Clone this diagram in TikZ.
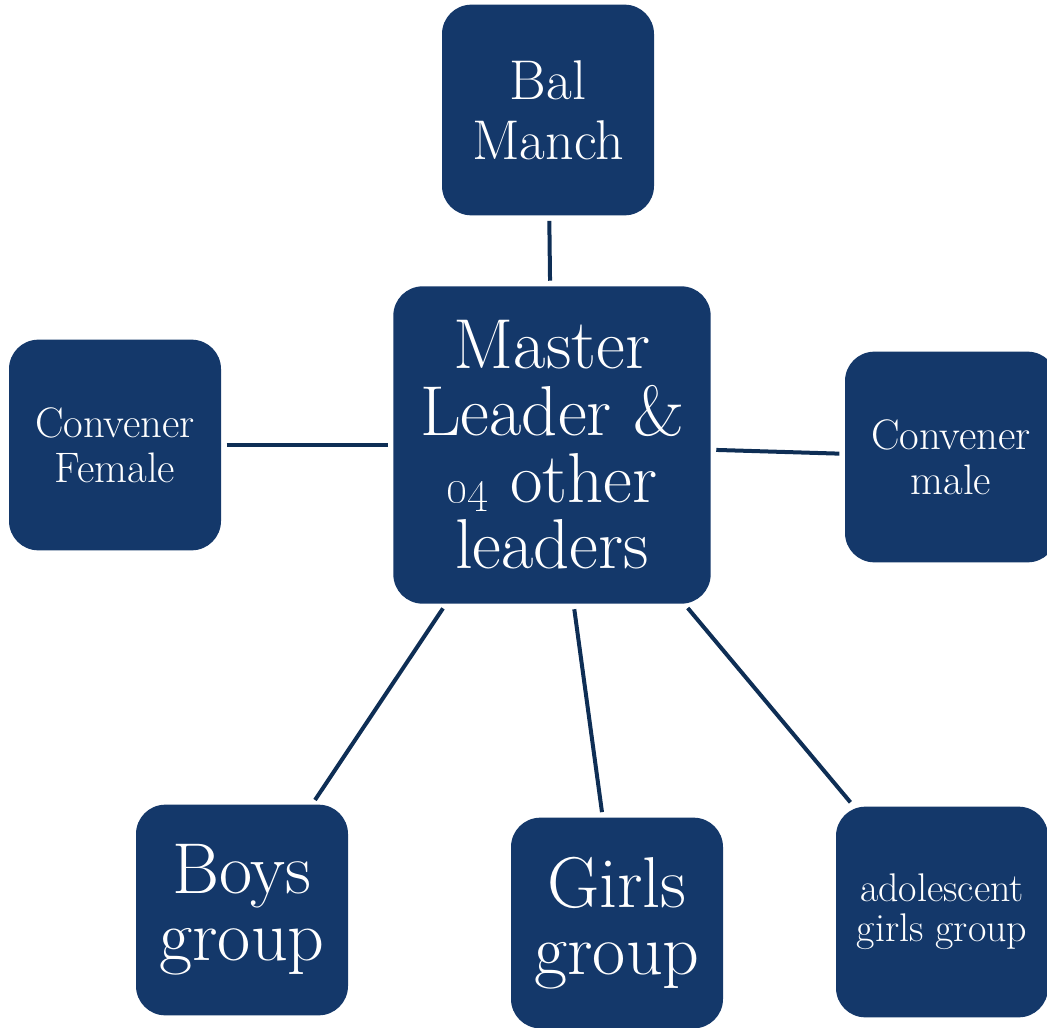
\documentclass[tikz,border=0pt]{standalone}
\definecolor{boxfill}{HTML}{14386A}
\definecolor{linecol}{HTML}{0E2E55}
\tikzset{
  box/.style={fill=boxfill, draw=none, rounded corners=22pt, minimum width=159pt, minimum height=158pt, text=white, align=center, inner sep=0pt},
  bigbox/.style={box, minimum width=238pt, minimum height=238pt},
  conn/.style={draw=linecol, line width=3pt, shorten >=4pt, shorten <=4pt}
}
\begin{document}
\begin{tikzpicture}[x=0.75pt,y=-0.75pt]
\useasboundingbox (0,0) rectangle (1047,1028);
\clip (0,0) rectangle (1047,1028);
\node[bigbox, font=\fontsize{53}{50}\selectfont] (center) at (552,445) {Master\\Leader \&\\{\fontsize{64}{50}\selectfont\oldstylenums{04}} other\\leaders};
\node[box, font=\fontsize{42}{45}\selectfont] (bal) at (548,110) {Bal\\Manch};
\node[box, font=\fontsize{32}{34}\selectfont] (fem) at (115,445) {Convener\\Female};
\node[box, font=\fontsize{32}{34}\selectfont] (male) at (951,457) {Convener\\male};
\node[box, font=\fontsize{54}{50}\selectfont] (boys) at (242,910) {Boys\\group};
\node[box, font=\fontsize{54}{50}\selectfont] (girls) at (617,923) {Girls\\group};
\node[box, font=\fontsize{30}{30}\selectfont] (ado) at (942,912) {adolescent\\girls group};
\draw[conn] (bal) -- (center);
\draw[conn] (fem) -- (center);
\draw[conn] (center) -- (male);
\draw[conn] (center) -- (boys);
\draw[conn] (center) -- (girls);
\draw[conn] (center) -- (ado);
\end{tikzpicture}
\end{document}
